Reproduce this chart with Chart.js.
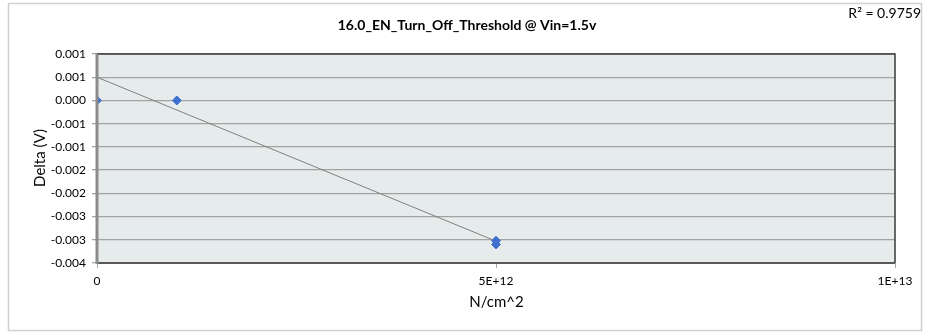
<!DOCTYPE html>
<html>
<head>
<meta charset="utf-8">
<script src="https://cdn.jsdelivr.net/npm/chart.js@4"></script>
<style>
  html, body { margin: 0; padding: 0; background: #ffffff; }
  #wrap { width: 926px; height: 333px; position: relative; }
</style>
</head>
<body>
<div id="wrap"><canvas id="c" width="926" height="333"></canvas></div>
<script>
// ---- data ----
const chartTitle = "16.0_EN_Turn_Off_Threshold @ Vin=1.5v";
const rSquaredLabel = "R² = 0.9759";
const xAxisTitle = "N/cm^2";
const yAxisTitle = "Delta (V)";

const pointX = [0, 1e12, 5e12, 5e12];
const pointY = [0.0, 0.0, -0.00302, -0.00310];

const trendX = [0, 5e12];
const trendY = [0.0005, -0.00303];

const xTickValues = [0, 5e12, 1e13];
const xTickLabels = ["0", "5E+12", "1E+13"];

const yTickValues = [-0.0035, -0.003, -0.0025, -0.002, -0.0015, -0.001, -0.0005, 0, 0.0005, 0.001];
const yTickLabels = ["-0.004", "-0.003", "-0.003", "-0.002", "-0.002", "-0.001", "-0.001", "0.000", "0.001", "0.001"];

const FONT = "Lato, 'Open Sans', sans-serif";

const decor = {
  id: 'decor',
  beforeDraw(chart) {
    const { ctx, chartArea: a } = chart;
    ctx.save();
    ctx.fillStyle = '#ffffff';
    ctx.fillRect(0, 0, chart.width, chart.height);
    ctx.strokeStyle = '#d0d0d0';
    ctx.lineWidth = 1.5;
    ctx.strokeRect(8.5, 3.5, 913, 327);
    ctx.fillStyle = '#e6ebeb';
    ctx.fillRect(a.left, a.top, a.right - a.left, a.bottom - a.top);
    ctx.restore();
  },
  afterDatasetsDraw(chart) {
    const { ctx, chartArea: a } = chart;
    ctx.save();
    ctx.strokeStyle = '#3a3a3a';
    ctx.lineWidth = 1.5;
    ctx.beginPath();
    ctx.moveTo(a.left, a.top); ctx.lineTo(a.right, a.top); ctx.lineTo(a.right, a.bottom);
    ctx.stroke();
    ctx.strokeStyle = '#595959';
    ctx.lineWidth = 2;
    ctx.beginPath();
    ctx.moveTo(a.left, a.bottom); ctx.lineTo(a.right, a.bottom);
    ctx.stroke();
    ctx.strokeStyle = '#8c8c8c';
    ctx.lineWidth = 3;
    ctx.beginPath();
    ctx.moveTo(a.left, a.top); ctx.lineTo(a.left, a.bottom + 1);
    ctx.stroke();
    ctx.restore();
  },
  afterDraw(chart) {
    const { ctx, chartArea: a } = chart;
    ctx.save();
    ctx.fillStyle = '#000000';
    ctx.textBaseline = 'middle';
    ctx.textAlign = 'center';
    ctx.font = "bold 14px " + FONT;
    ctx.fillText(chartTitle, 467, 25);
    ctx.font = "14px " + FONT;
    ctx.textAlign = 'right';
    ctx.fillText(rSquaredLabel, 921, 13);
    ctx.textAlign = 'center';
    ctx.font = "15px " + FONT;
    ctx.fillText(xAxisTitle, (a.left + a.right) / 2 + 0.5, 302);
    ctx.translate(40, 158);
    ctx.rotate(-Math.PI / 2);
    ctx.font = "15px " + FONT;
    ctx.fillText(yAxisTitle, 0, 0);
    ctx.restore();
  }
};

const ctx = document.getElementById('c').getContext('2d');
new Chart(ctx, {
  type: 'scatter',
  data: {
    datasets: [
      {
        label: 'Delta',
        data: pointX.map((x, i) => ({ x: x, y: pointY[i] })),
        backgroundColor: '#3f70cf',
        borderColor: '#3f70cf',
        borderWidth: 1,
        pointStyle: 'rectRot',
        pointRadius: 4.5,
        showLine: false,
        order: 0
      },
      {
        label: 'Linear trend',
        data: trendX.map((x, i) => ({ x: x, y: trendY[i] })),
        showLine: true,
        borderColor: '#808080',
        borderWidth: 1,
        pointRadius: 0,
        fill: false,
        order: 1
      }
    ]
  },
  options: {
    responsive: false,
    animation: false,
    devicePixelRatio: 1,
    layout: { padding: { top: 54, left: 0, right: 31, bottom: 0 } },
    plugins: {
      legend: { display: false },
      title: { display: false },
      tooltip: { enabled: false }
    },
    scales: {
      x: {
        type: 'linear',
        min: 0,
        max: 1e13,
        afterBuildTicks: s => { s.ticks = xTickValues.map(v => ({ value: v })); },
        afterFit: s => { s.height = 70; },
        ticks: {
          callback: (v, i) => xTickLabels[i],
          color: '#000000',
          font: { family: FONT, size: 12 },
          padding: 6,
          maxRotation: 0,
          autoSkip: false
        },
        grid: { drawOnChartArea: false, color: '#a6a6a6', tickLength: 5 },
        border: { display: false }
      },
      y: {
        type: 'linear',
        min: -0.0035,
        max: 0.001,
        afterBuildTicks: s => { s.ticks = yTickValues.map(v => ({ value: v })); },
        afterFit: s => { s.width = 97; },
        ticks: {
          callback: (v, i) => yTickLabels[i],
          color: '#000000',
          font: { family: FONT, size: 12 },
          padding: 6,
          autoSkip: false
        },
        grid: { color: '#a3a3a3', lineWidth: 1.3, tickLength: 5 },
        border: { display: false }
      }
    }
  },
  plugins: [decor]
});
</script>
</body>
</html>
